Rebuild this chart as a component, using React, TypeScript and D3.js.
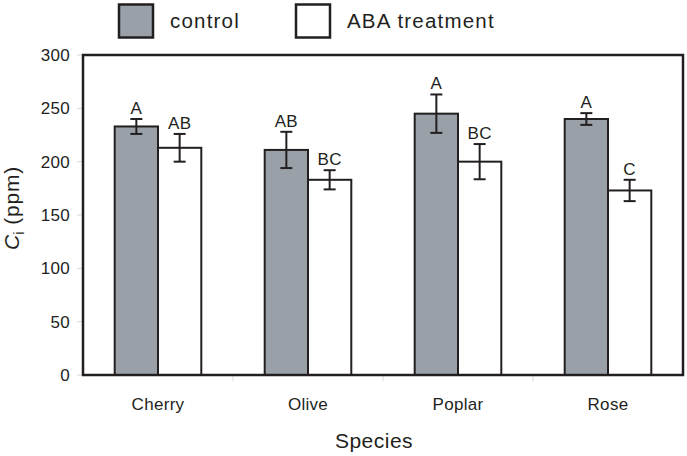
import React from "react";
import * as d3 from "d3";

const species = ["Cherry", "Olive", "Poplar", "Rose"];
const seriesNames = ["control", "ABA treatment"];
const controlVals = [233, 211, 245, 240];
const controlErr = [7, 17, 18, 5.5];
const abaVals = [213, 183, 200, 173];
const abaErr = [13, 9, 16.5, 10];
const controlLetters = ["A", "AB", "A", "A"];
const abaLetters = ["AB", "BC", "BC", "C"];
const yTicks = [0, 50, 100, 150, 200, 250, 300];

const W = 687, H = 456;
const L = 83, R = 683, T = 55, B = 375;
const FONT = "'Liberation Sans', Arial, Helvetica, sans-serif";
const GRAY = "#9aa0a8";
const INK = "#231f20";

export default function App() {
  const x = d3.scaleBand<string>().domain(species).range([L, R]).paddingInner(0).paddingOuter(0);
  const sub = d3.scaleBand<number>().domain([0, 1]).range([31.7, 118.3]);
  const y = d3.scaleLinear().domain([0, 300]).range([B, T]);

  const series = [
    { vals: controlVals, errs: controlErr, letters: controlLetters, fill: GRAY },
    { vals: abaVals, errs: abaErr, letters: abaLetters, fill: "#ffffff" },
  ];

  return (
    <svg width={W} height={H} style={{ position: "absolute", left: 0, top: 0, background: "#fff" }}>
      <rect x={0} y={0} width={W} height={H} fill="#fff" />
      {/* legend */}
      <rect x={119} y={4.5} width={34} height={33} fill={GRAY} stroke={INK} strokeWidth={2.5} />
      <text x={170} y={27.5} fontFamily={FONT} fontSize={20.5} letterSpacing={1.2} fill={INK}>{seriesNames[0]}</text>
      <rect x={296} y={4.5} width={34} height={33} fill="#fff" stroke={INK} strokeWidth={2.5} />
      <text x={347} y={27.5} fontFamily={FONT} fontSize={20.5} letterSpacing={1.2} fill={INK}>{seriesNames[1]}</text>

      {/* y ticks */}
      {yTicks.map((t) => (
        <g key={t}>
          <line x1={L - 6} x2={L} y1={y(t)} y2={y(t)} stroke="#d8d8d8" strokeWidth={1} />
          <text x={70} y={y(t) + 6} textAnchor="end" fontFamily={FONT} fontSize={17} letterSpacing={0.3} fill={INK}>{t}</text>
        </g>
      ))}
      {/* x category boundary ticks */}
      {species.slice(1).map((s) => (
        <line key={s} x1={x(s)!} x2={x(s)!} y1={B} y2={B + 6} stroke="#d8d8d8" strokeWidth={1} />
      ))}

      {/* bars */}
      {series.map((se, si) =>
        species.map((s, i) => {
          const bx = x(s)! + sub(si)!;
          const bw = sub.bandwidth();
          const cx = bx + bw / 2;
          const top = y(se.vals[i]);
          const eHi = y(se.vals[i] + se.errs[i]);
          const eLo = y(se.vals[i] - se.errs[i]);
          return (
            <g key={s + si}>
              <rect x={bx} y={top} width={bw} height={B - top} fill={se.fill} stroke={INK} strokeWidth={2} />
              <line x1={cx} x2={cx} y1={eHi} y2={eLo} stroke={INK} strokeWidth={2} />
              <line x1={cx - 6} x2={cx + 6} y1={eHi} y2={eHi} stroke={INK} strokeWidth={2} />
              <line x1={cx - 6} x2={cx + 6} y1={eLo} y2={eLo} stroke={INK} strokeWidth={2} />
              <text x={cx} y={eHi - 5} textAnchor="middle" fontFamily={FONT} fontSize={17} letterSpacing={0.3} fill={INK}>{se.letters[i]}</text>
            </g>
          );
        })
      )}

      {/* frame */}
      <rect x={L} y={T} width={R - L} height={B - T} fill="none" stroke={INK} strokeWidth={2.5} />

      {/* category labels */}
      {species.map((s) => (
        <text key={s} x={x(s)! + x.bandwidth() / 2} y={409.5} textAnchor="middle" fontFamily={FONT} fontSize={17} letterSpacing={0.3} fill={INK}>{s}</text>
      ))}
      <text x={374} y={448} textAnchor="middle" fontFamily={FONT} fontSize={21} letterSpacing={0.5} fill={INK}>Species</text>

      {/* y title */}
      <text transform={`translate(18.5,${208}) rotate(-90)`} textAnchor="middle" fontFamily={FONT} fontSize={21} fill={INK}>
        <tspan fontStyle="italic">C</tspan>
        <tspan fontSize={15} dy={5}>i</tspan>
        <tspan dy={-5} letterSpacing={0.8}>{"  (ppm)"}</tspan>
      </text>
    </svg>
  );
}
